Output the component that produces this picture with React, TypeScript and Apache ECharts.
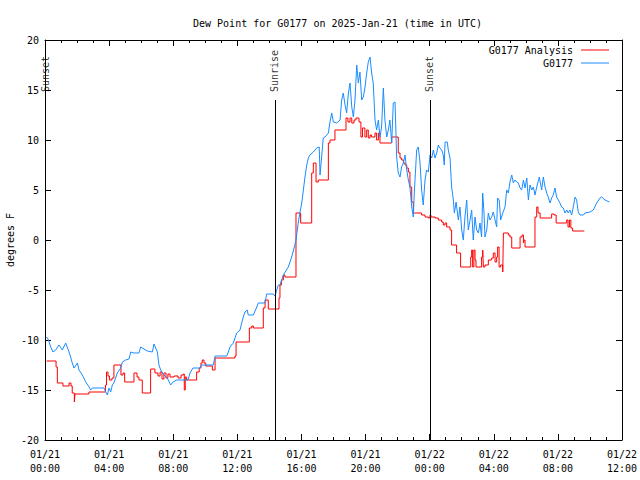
import React, { useEffect, useRef } from 'react';
import * as echarts from 'echarts';

const FONT = 'DejaVu Sans Mono';

const chartTitle = 'Dew Point for G0177 on 2025-Jan-21 (time in UTC)';
const xTickLabels = [
  '01/21\n00:00', '01/21\n04:00', '01/21\n08:00', '01/21\n12:00', '01/21\n16:00',
  '01/21\n20:00', '01/22\n00:00', '01/22\n04:00', '01/22\n08:00', '01/22\n12:00',
];
const seriesNames = ['G0177 Analysis', 'G0177'];
const seriesColors = ['#ff0000', '#1a8cff'];

// Sun events: hours since 01/21 00:00 UTC
const eventHours = [0, 14.35, 24.02];
const eventNames = ['Sunset', 'Sunrise', 'Sunset'];
const eventLineTop = 14;

// G0177 Analysis: [hours since 01/21 00:00, dew point °F] (stepped)
const g0177Analysis = [
  [0.1, -12.1], [0.69, -12.7], [0.77, -14.3], [1.12, -14.6], [1.5, -14.3], [1.62, -14.6], [1.7, -15.3], [1.83, -16.2],
  [1.87, -15.4], [2.74, -15.2], [3.77, -14.5], [3.84, -13.2], [3.93, -13.6], [4.02, -14.0], [4.18, -13.8], [4.3, -12.5],
  [4.74, -13.5], [4.87, -13.3], [4.97, -14.2], [5.55, -13.3], [5.74, -13.7], [5.86, -14.0], [6.07, -15.3], [6.59, -12.9],
  [6.86, -13.3], [7.05, -13.6], [7.18, -13.2], [7.3, -13.9], [7.42, -13.3], [7.55, -13.8], [7.67, -13.4], [7.8, -13.7],
  [8.05, -13.6], [8.3, -13.8], [8.49, -13.5], [8.63, -13.4], [8.69, -15.0], [8.75, -13.7], [8.84, -14.0], [9.46, -13.2],
  [9.62, -12.8], [9.73, -12.3], [9.81, -12.0], [9.92, -12.3], [10.03, -12.6], [10.44, -13.0], [10.61, -11.8], [11.85, -11.6],
  [11.92, -10.2], [12.75, -8.8], [12.9, -8.6], [13.0, -8.8], [13.62, -6.8], [13.73, -6.0], [13.93, -6.9], [14.6, -5.8],
  [14.66, -4.5], [14.75, -4.0], [14.87, -3.5], [14.97, -3.7], [15.66, 2.7], [15.95, 1.7], [16.64, 6.7], [16.74, 7.7],
  [16.91, 5.8], [17.05, 6.0], [17.68, 9.7], [17.78, 10.0], [18.09, 11.0], [18.78, 12.2], [18.9, 11.8], [19.03, 12.2],
  [19.14, 11.7], [19.28, 12.0], [19.4, 12.2], [19.59, 11.8], [19.71, 10.3], [19.81, 11.2], [19.96, 10.3], [20.07, 11.0],
  [20.17, 10.2], [20.28, 10.5], [20.38, 10.3], [20.59, 10.7], [20.69, 10.0], [20.8, 10.7], [20.9, 9.7], [21.63, 10.3],
  [22.04, 8.7], [22.15, 8.2], [22.25, 8.0], [22.36, 7.7], [22.46, 7.5], [22.57, 7.2], [22.67, 6.8], [22.77, 5.3],
  [22.88, 3.8], [22.98, 2.7], [23.5, 2.5], [23.71, 2.3], [23.92, 2.2], [24.02, 2.5], [24.08, 2.3], [24.33, 2.2],
  [24.54, 2.0], [24.75, 1.8], [24.85, 1.5], [24.96, 1.7], [25.06, 1.3], [25.27, 1.0], [25.37, -0.5], [25.68, -1.3],
  [25.93, -2.7], [26.56, -1.7], [26.62, -1.0], [26.68, -2.7], [26.76, -1.0], [26.83, -2.0], [26.89, -2.7], [27.24, -1.7],
  [27.31, -1.0], [27.35, -2.7], [27.45, -2.5], [27.66, -2.0], [27.87, -1.8], [27.97, -1.3], [28.08, -2.2], [28.18, -1.7],
  [28.24, -0.7], [28.33, -2.7], [28.43, -2.5], [28.56, -3.2], [28.6, 0.7], [28.91, 0.5], [29.01, 0.3], [29.12, -0.8],
  [29.64, 0.3], [29.76, 0.5], [29.85, -0.3], [29.89, 0.0], [29.95, -0.7], [30.57, 2.3], [30.68, 3.3], [30.76, 2.7],
  [30.89, 2.2], [31.61, 2.6], [31.76, 2.5], [31.89, 1.7], [32.55, 2.0], [32.63, 1.3], [32.72, 2.0], [32.81, 1.2],
  [32.92, 0.9], [33.65, 0.9],
];

// G0177 observations: [hours since 01/21 00:00, dew point °F]
const g0177 = [
  [0.1, -9.7], [0.19, -9.9], [0.36, -10.7], [0.5, -11.2], [0.67, -11.0], [0.87, -10.5], [1.08, -11.0], [1.29, -10.3],
  [1.5, -11.2], [1.6, -11.7], [1.7, -12.3], [1.81, -12.8], [2.02, -12.3], [2.12, -13.0], [2.33, -13.5], [2.54, -14.2],
  [2.75, -14.7], [2.85, -15.0], [2.95, -14.8], [3.68, -14.8], [3.79, -15.2], [3.89, -15.5], [3.99, -14.8], [4.1, -15.2],
  [4.2, -14.5], [4.3, -14.3], [4.51, -13.3], [4.72, -12.8], [4.83, -12.2], [5.03, -12.0], [5.24, -11.9], [5.35, -11.2],
  [5.55, -11.3], [5.86, -11.3], [5.97, -10.7], [6.38, -11.1], [6.7, -11.2], [6.8, -10.4], [7.01, -11.2], [7.11, -12.5],
  [7.22, -13.0], [7.42, -13.5], [7.63, -13.8], [7.84, -14.5], [7.99, -14.2], [8.22, -14.0], [8.92, -14.0], [9.05, -13.3],
  [9.23, -12.8], [9.67, -12.8], [9.78, -12.5], [10.5, -12.5], [10.61, -11.6], [11.34, -11.6], [11.44, -11.2], [11.54, -10.7],
  [11.75, -10.3], [11.96, -9.3], [12.17, -9.0], [12.27, -8.3], [12.37, -7.7], [12.48, -7.2], [12.62, -7.0], [12.68, -7.5],
  [13.0, -7.5], [13.21, -6.7], [13.31, -6.3], [13.73, -6.3], [13.83, -5.4], [14.24, -5.4], [14.35, -5.6], [14.46, -5.0],
  [14.56, -4.5], [14.66, -4.5], [14.87, -3.5], [15.18, -2.7], [15.39, -1.7], [15.54, -0.8], [15.66, 0.0], [15.8, 1.7],
  [15.91, 2.8], [16.02, 3.7], [16.12, 5.0], [16.22, 6.3], [16.33, 7.5], [16.43, 8.2], [16.53, 8.5], [16.74, 8.8],
  [16.95, 9.2], [17.11, 9.3], [17.16, 6.5], [17.26, 8.3], [17.36, 10.2], [17.47, 10.3], [17.68, 10.7], [17.78, 11.8],
  [17.89, 12.7], [17.99, 11.8], [18.2, 11.7], [18.41, 12.0], [18.51, 14.0], [18.61, 14.7], [18.72, 13.5], [18.82, 12.7],
  [18.93, 14.7], [19.03, 15.7], [19.14, 13.3], [19.24, 12.3], [19.34, 14.0], [19.45, 17.5], [19.55, 15.7], [19.65, 16.8],
  [19.76, 14.0], [19.86, 14.3], [19.97, 15.3], [20.07, 16.7], [20.17, 17.8], [20.28, 18.3], [20.38, 16.7], [20.48, 15.7],
  [20.59, 12.0], [20.69, 11.0], [20.8, 12.0], [20.9, 10.3], [21.0, 11.3], [21.11, 15.2], [21.21, 12.0], [21.32, 10.3],
  [21.42, 11.0], [21.52, 12.0], [21.63, 9.7], [21.73, 13.7], [21.84, 13.8], [21.94, 8.3], [22.04, 6.7], [22.15, 6.3],
  [22.25, 7.3], [22.36, 7.7], [22.46, 8.5], [22.57, 7.0], [22.67, 6.0], [22.77, 5.3], [22.88, 3.3], [22.98, 2.3],
  [23.04, 4.7], [23.19, 9.0], [23.29, 9.3], [23.4, 7.7], [23.5, 5.0], [23.6, 3.5], [23.71, 6.0], [23.81, 7.0],
  [23.92, 6.8], [24.02, 8.5], [24.13, 8.2], [24.23, 9.0], [24.33, 8.2], [24.44, 8.7], [24.54, 9.5], [24.64, 9.2],
  [24.75, 9.0], [24.85, 8.5], [24.91, 7.5], [24.96, 9.8], [25.1, 9.8], [25.16, 9.0], [25.27, 8.2], [25.37, 5.3],
  [25.48, 4.0], [25.54, 2.7], [25.65, 3.8], [25.79, 2.0], [25.89, 3.3], [26.0, 1.0], [26.1, 0.0], [26.2, 2.3],
  [26.31, 4.0], [26.41, 1.0], [26.52, 2.0], [26.62, 3.0], [26.72, 0.0], [26.83, 2.3], [26.93, 1.0], [27.04, 0.7],
  [27.14, 1.7], [27.24, 0.3], [27.31, 4.7], [27.39, 2.7], [27.45, 0.3], [27.56, 1.0], [27.66, 2.7], [27.76, 2.0],
  [27.87, 2.3], [27.97, 2.8], [28.08, 2.0], [28.18, 1.3], [28.24, 4.2], [28.34, 4.0], [28.43, 2.0], [28.56, 2.7],
  [28.7, 3.3], [28.81, 5.0], [28.91, 4.7], [29.01, 5.8], [29.12, 6.5], [29.22, 5.7], [29.32, 6.0], [29.43, 5.8],
  [29.53, 5.7], [29.64, 5.2], [29.74, 5.0], [29.85, 6.0], [29.95, 5.2], [30.06, 6.2], [30.16, 4.0], [30.26, 5.5],
  [30.37, 5.0], [30.47, 5.3], [30.57, 4.5], [30.68, 5.3], [30.84, 6.3], [30.99, 5.0], [31.09, 6.3], [31.2, 5.3],
  [31.3, 4.7], [31.4, 4.3], [31.51, 3.7], [31.61, 4.2], [31.71, 4.5], [31.82, 5.2], [31.92, 4.3], [32.03, 4.0],
  [32.13, 3.7], [32.23, 3.3], [32.34, 3.2], [32.44, 2.7], [32.55, 3.0], [32.65, 2.7], [32.75, 3.0], [32.86, 2.5],
  [32.96, 3.3], [33.07, 4.3], [33.17, 4.0], [33.27, 2.8], [33.38, 2.5], [33.59, 2.5], [33.69, 2.7], [34.0, 2.8],
  [34.21, 3.0], [34.42, 3.7], [34.63, 4.2], [34.73, 4.3], [34.94, 4.0], [35.21, 3.8],
];

const X_MIN = 0;
const X_MAX = 36;
const X_INTERVAL = 4;
const Y_MIN = -20;
const Y_MAX = 20;
const Y_INTERVAL = 5;

const textBase = { fontFamily: FONT, fontSize: 10, color: '#000' };

export default function App() {
  const ref = useRef<HTMLDivElement>(null);

  useEffect(() => {
    const chart = echarts.init(ref.current as HTMLDivElement, null, { renderer: 'svg' });
    const axisCommon = {
      axisLine: { show: true, onZero: false, lineStyle: { color: '#000', width: 1 } },
      splitLine: { show: false },
    };
    const majorTick = { show: true, inside: true, length: 6, lineStyle: { color: '#000' } };
    const minorTick = { show: true, splitNumber: 4, length: 3, lineStyle: { color: '#000' } };
    chart.setOption({
      animation: false,
      backgroundColor: '#ffffff',
      title: {
        text: chartTitle,
        left: 188,
        top: 13,
        textStyle: { ...textBase, fontWeight: 'normal' },
      },
      legend: {
        data: seriesNames,
        orient: 'vertical',
        right: 26,
        top: 40,
        align: 'right',
        itemWidth: 28,
        itemHeight: 1,
        itemGap: 3,
        icon: 'rect',
        textStyle: { ...textBase, padding: [0, 3, 0, 0] },
      },
      grid: { left: 45, right: 18, top: 40, bottom: 40, containLabel: false, outerBoundsMode: 'none' },
      xAxis: [
        {
          type: 'value',
          min: X_MIN,
          max: X_MAX,
          interval: X_INTERVAL,
          ...axisCommon,
          axisTick: majorTick,
          minorTick,
          axisLabel: {
            ...textBase,
            lineHeight: 14,
            margin: 7,
            formatter: (v: number) => xTickLabels[Math.round((v - X_MIN) / X_INTERVAL)] ?? '',
          },
        },
        {
          type: 'value',
          position: 'top',
          min: X_MIN,
          max: X_MAX,
          interval: X_INTERVAL,
          ...axisCommon,
          axisTick: majorTick,
          minorTick,
          axisLabel: { show: false },
        },
      ],
      yAxis: [
        {
          type: 'value',
          min: Y_MIN,
          max: Y_MAX,
          interval: Y_INTERVAL,
          ...axisCommon,
          name: 'degrees F',
          nameLocation: 'middle',
          nameGap: 30,
          nameMoveOverlap: false,
          nameRotate: 90,
          nameTextStyle: { ...textBase },
          axisTick: majorTick,
          axisLabel: { ...textBase, margin: 6 },
        },
        {
          type: 'value',
          position: 'right',
          min: Y_MIN,
          max: Y_MAX,
          interval: Y_INTERVAL,
          ...axisCommon,
          axisTick: majorTick,
          axisLabel: { show: false },
        },
      ],
      series: [
        {
          name: seriesNames[0],
          type: 'line',
          step: 'end',
          data: g0177Analysis,
          symbol: 'none',
          lineStyle: { color: seriesColors[0], width: 1 },
          itemStyle: { color: seriesColors[0] },
          z: 3,
          markLine: {
            silent: true,
            symbol: ['none', 'none'],
            label: { show: false },
            lineStyle: { color: '#000', type: 'solid', width: 1 },
            data: eventHours.map((h) => [{ coord: [h, Y_MIN] }, { coord: [h, eventLineTop] }]),
          },
        },
        {
          name: seriesNames[1],
          type: 'line',
          data: g0177,
          symbol: 'none',
          lineStyle: { color: seriesColors[1], width: 1 },
          itemStyle: { color: seriesColors[1] },
          z: 4,
        },
        {
          name: 'events',
          type: 'scatter',
          data: eventHours.map((h, i) => ({ value: [h, eventLineTop], name: eventNames[i] })),
          symbolSize: 0,
          silent: true,
          z: 5,
          label: {
            show: true,
            ...textBase,
            position: 'inside',
            rotate: 90,
            align: 'left',
            verticalAlign: 'middle',
            offset: [8, 0],
            formatter: (p: any) => p.name,
          },
        },
      ],
    });
    return () => chart.dispose();
  }, []);

  return (
    <div
      ref={ref}
      style={{ position: 'fixed', left: 0, top: 0, width: 640, height: 480, background: '#fff' }}
    />
  );
}
